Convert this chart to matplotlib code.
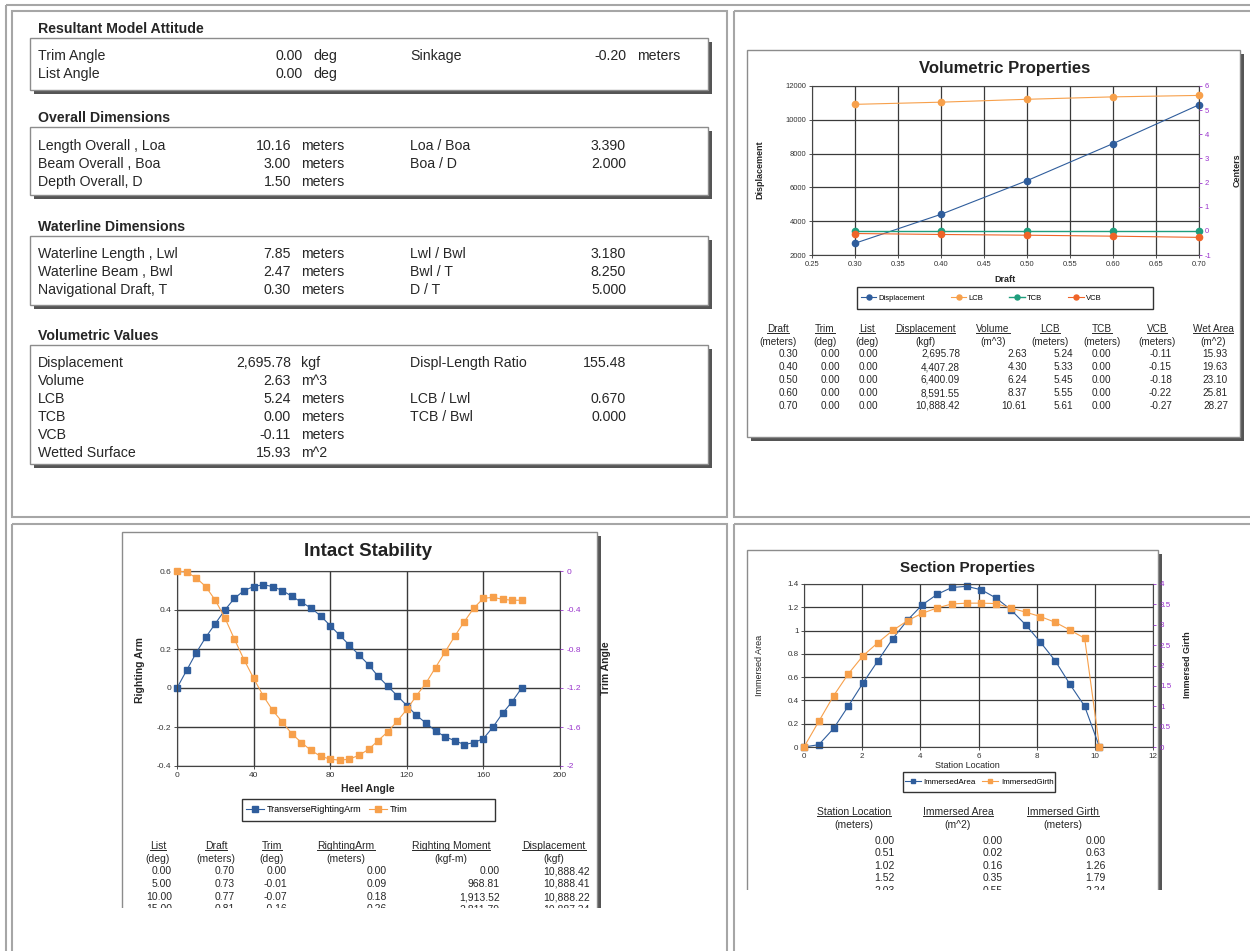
import matplotlib
matplotlib.use("Agg")
import matplotlib.pyplot as plt
from matplotlib.patches import Rectangle

W, H = 1250, 951
plt.rcParams["font.family"] = ["Liberation Sans", "DejaVu Sans"]
plt.rcParams["axes.unicode_minus"] = False

TXT = "#262626"
GRID = "#3a3a3a"
PURPLE = "#9933cc"
BLUE = "#2f5d9c"
ORANGE = "#f7a04b"
TEAL = "#1f9e7d"
RED = "#ef6428"

# ---- summary panel (top left)
attitude_rows = [
    ["Trim Angle", "0.00", "deg", "Sinkage", "-0.20", "meters"],
    ["List Angle", "0.00", "deg", "", "", ""],
]
overall_rows = [
    ["Length Overall , Loa", "10.16", "meters", "Loa / Boa", "3.390", ""],
    ["Beam Overall , Boa", "3.00", "meters", "Boa / D", "2.000", ""],
    ["Depth Overall, D", "1.50", "meters", "", "", ""],
]
waterline_rows = [
    ["Waterline Length , Lwl", "7.85", "meters", "Lwl / Bwl", "3.180", ""],
    ["Waterline Beam , Bwl", "2.47", "meters", "Bwl / T", "8.250", ""],
    ["Navigational Draft, T", "0.30", "meters", "D / T", "5.000", ""],
]
volumetric_rows = [
    ["Displacement", "2,695.78", "kgf", "Displ-Length Ratio", "155.48", ""],
    ["Volume", "2.63", "m^3", "", "", ""],
    ["LCB", "5.24", "meters", "LCB / Lwl", "0.670", ""],
    ["TCB", "0.00", "meters", "TCB / Bwl", "0.000", ""],
    ["VCB", "-0.11", "meters", "", "", ""],
    ["Wetted Surface", "15.93", "m^2", "", "", ""],
]

# ---- volumetric properties
draft = [0.30, 0.40, 0.50, 0.60, 0.70]
vol_trim = [0.00, 0.00, 0.00, 0.00, 0.00]
vol_list = [0.00, 0.00, 0.00, 0.00, 0.00]
displacement = [2695.78, 4407.28, 6400.09, 8591.55, 10888.42]
volume = [2.63, 4.30, 6.24, 8.37, 10.61]
lcb = [5.24, 5.33, 5.45, 5.55, 5.61]
tcb = [0.00, 0.00, 0.00, 0.00, 0.00]
vcb = [-0.11, -0.15, -0.18, -0.22, -0.27]
wet_area = [15.93, 19.63, 23.10, 25.81, 28.27]
vol_xticks = [0.25, 0.30, 0.35, 0.40, 0.45, 0.50, 0.55, 0.60, 0.65, 0.70]
vol_yticks = [2000, 4000, 6000, 8000, 10000, 12000]
vol_rticks = [-1, 0, 1, 2, 3, 4, 5, 6]

# ---- intact stability
heel = [0, 5, 10, 15, 20, 25, 30, 35, 40, 45, 50, 55, 60, 65, 70, 75, 80, 85, 90,
        95, 100, 105, 110, 115, 120, 125, 130, 135, 140, 145, 150, 155, 160, 165,
        170, 175, 180]
righting_arm = [0.00, 0.09, 0.18, 0.26, 0.33, 0.40, 0.46, 0.50, 0.52, 0.53, 0.52,
                0.50, 0.47, 0.44, 0.41, 0.37, 0.32, 0.27, 0.22, 0.17, 0.12, 0.06,
                0.01, -0.04, -0.09, -0.14, -0.18, -0.22, -0.25, -0.27, -0.29,
                -0.28, -0.26, -0.20, -0.13, -0.07, 0.00]
trim = [0.00, -0.01, -0.07, -0.16, -0.30, -0.48, -0.70, -0.91, -1.10, -1.28, -1.43,
        -1.55, -1.67, -1.76, -1.84, -1.90, -1.93, -1.94, -1.93, -1.89, -1.83, -1.74,
        -1.65, -1.54, -1.42, -1.28, -1.15, -0.99, -0.83, -0.67, -0.52, -0.38, -0.28,
        -0.27, -0.29, -0.30, -0.30]
stab_draft = [0.70, 0.73, 0.77, 0.81]
stab_moment = [0.00, 968.81, 1913.52, 2811.79]
stab_disp = [10888.42, 10888.41, 10888.22, 10887.34]
stab_xticks = [0, 40, 80, 120, 160, 200]
stab_yticks = [-0.4, -0.2, 0, 0.2, 0.4, 0.6]
stab_rticks = [-2, -1.6, -1.2, -0.8, -0.4, 0]

# ---- section properties
station = [0.00, 0.51, 1.02, 1.52, 2.03, 2.54, 3.05, 3.56, 4.06, 4.57, 5.08, 5.59,
           6.10, 6.60, 7.11, 7.62, 8.13, 8.64, 9.14, 9.65, 10.16]
imm_area = [0.00, 0.02, 0.16, 0.35, 0.55, 0.74, 0.93, 1.09, 1.22, 1.31, 1.37, 1.38,
            1.35, 1.28, 1.18, 1.05, 0.90, 0.74, 0.54, 0.35, 0.00]
imm_girth = [0.00, 0.63, 1.26, 1.79, 2.24, 2.56, 2.86, 3.10, 3.28, 3.41, 3.51, 3.53,
             3.53, 3.52, 3.41, 3.31, 3.20, 3.06, 2.87, 2.67, 0.00]
sec_xticks = [0, 2, 4, 6, 8, 10, 12]
sec_yticks = [0, 0.2, 0.4, 0.6, 0.8, 1, 1.2, 1.4]
sec_rticks = [0, 0.5, 1, 1.5, 2, 2.5, 3, 3.5, 4]


def fr(l, t, r, b):
    return [l / W, 1 - b / H, (r - l) / W, (b - t) / H]


fig = plt.figure(figsize=(W / 100, H / 100), dpi=100)
bg = fig.add_axes([0, 0, 1, 1], zorder=0)
bg.set_xlim(0, W)
bg.set_ylim(H, 0)
bg.axis("off")

# outer table lines
PANEL = "#a6a6a6"
bg.add_patch(Rectangle((6, 5), W, H, fill=False, ec=PANEL, lw=1.5, zorder=20))
for l, t, r, b in [(12, 11, 727, 517), (734, 11, W + 5, 517),
                   (12, 524, 727, H + 5), (734, 524, W + 5, H + 5)]:
    bg.add_patch(Rectangle((l, t), r - l, b - t, fill=False, ec=PANEL, lw=1.5, zorder=20))


def shadow_box(l, t, r, b, off=4):
    bg.add_patch(Rectangle((l + off, t + off), r - l, b - t, fc="#555555", ec="none", zorder=1))
    bg.add_patch(Rectangle((l, t), r - l, b - t, fc="white", ec="#8c8c8c", lw=1, zorder=2))


# ---- top-left summary
FS = 10.2
summary = [
    ("Resultant Model Attitude", 29, 38, 90, attitude_rows, 56, 303, 313),
    ("Overall Dimensions", 118, 127, 195, overall_rows, 146, 291, 301),
    ("Waterline Dimensions", 227, 236, 305, waterline_rows, 254, 291, 301),
    ("Volumetric Values", 336, 345, 464, volumetric_rows, 363, 291, 301),
]
for title, ty, bt, bb, rows, y0, xv, xu in summary:
    bg.text(38, ty, title, fontsize=FS, fontweight="bold", color=TXT, ha="left", va="center")
    shadow_box(30, bt, 708, bb)
    for i, row in enumerate(rows):
        y = y0 + i * 18
        bg.text(38, y, row[0], fontsize=FS, color=TXT, ha="left", va="center", zorder=3)
        bg.text(xv, y, row[1], fontsize=FS, color=TXT, ha="right", va="center", zorder=3)
        bg.text(xu, y, row[2], fontsize=FS, color=TXT, ha="left", va="center", zorder=3)
        bg.text(410, y, row[3], fontsize=FS, color=TXT, ha="left", va="center", zorder=3)
        bg.text(626, y, row[4], fontsize=FS, color=TXT, ha="right", va="center", zorder=3)
        bg.text(637, y, row[5], fontsize=FS, color=TXT, ha="left", va="center", zorder=3)

underlined = []


def table(xc, xr, y_head, y_unit, y_rows, headers, units, columns, fs):
    for j in range(len(headers)):
        t = bg.text(xc[j], y_head, headers[j], fontsize=fs, color=TXT, ha="center", va="center", zorder=3)
        underlined.append(t)
        bg.text(xc[j], y_unit, units[j], fontsize=fs, color=TXT, ha="center", va="center", zorder=3)
        for i, y in enumerate(y_rows):
            bg.text(xr[j], y, columns[j][i], fontsize=fs, color=TXT, ha="right", va="center", zorder=3)


def style_axes(a, fs):
    a.set_facecolor("white")
    for s in a.spines.values():
        s.set_color("#444444")
        s.set_linewidth(0.8)
    a.tick_params(labelsize=fs, colors="#333333", length=2, width=0.6, pad=2)


def legend_box(a, handles, l, t, r, b, x_start, fs, colsp):
    # Excel-style legend: entries packed from the left inside a wider frame
    bg.add_patch(Rectangle((l, t), r - l, b - t, fill=False, ec="#333333", lw=1.0, zorder=3))
    yc = 1 - (t + b) / 2 / H
    a.legend(handles=handles, loc="center left", ncol=len(handles), fontsize=fs,
             bbox_to_anchor=(x_start / W, yc), bbox_transform=fig.transFigure,
             frameon=False, borderaxespad=0, borderpad=0, handlelength=2.0,
             handletextpad=0.3, columnspacing=colsp, markerscale=0.8)


# ---- volumetric properties (top right)
shadow_box(747, 50, 1240, 437)
bg.text(1005, 68, "Volumetric Properties", fontsize=12, fontweight="bold", color="#222222",
        ha="center", va="center", zorder=3)
ax = fig.add_axes(fr(812, 86, 1199, 255), zorder=3)
style_axes(ax, 5.5)
h1, = ax.plot(draft, displacement, color=BLUE, lw=0.8, marker="o", ms=4.5, label="Displacement",
              clip_on=False)
ax.set_xlim(0.25, 0.70)
ax.set_ylim(2000, 12000)
ax.set_xticks(vol_xticks)
ax.set_xticklabels([f"{v:.2f}" for v in vol_xticks])
ax.set_yticks(vol_yticks)
ax.set_yticklabels([f"{v:g}" for v in vol_yticks])
ax.grid(True, color=GRID, lw=0.9)
axr = ax.twinx()
axr.set_zorder(4)
h2, = axr.plot(draft, lcb, color=ORANGE, lw=0.8, marker="o", ms=4.5, label="LCB", clip_on=False)
h3, = axr.plot(draft, tcb, color=TEAL, lw=1.0, marker="o", ms=4.5, label="TCB", clip_on=False)
h4, = axr.plot(draft, vcb, color=RED, lw=0.8, marker="o", ms=4.5, label="VCB", clip_on=False)
axr.set_ylim(-1, 6)
axr.set_yticks(vol_rticks)
axr.set_yticklabels([f"{v:g}" for v in vol_rticks])
axr.tick_params(labelsize=5.5, colors=PURPLE, length=2, width=0.6, pad=2)
for s in axr.spines.values():
    s.set_visible(False)
bg.text(760, 170, "Displacement", rotation=90, fontsize=6.5, fontweight="bold", color=TXT,
        ha="center", va="center")
bg.text(1237, 170, "Centers", rotation=90, fontsize=6.5, fontweight="bold", color=TXT,
        ha="center", va="center")
bg.text(1005, 280, "Draft", fontsize=6.5, fontweight="bold", color=TXT, ha="center", va="center")
legend_box(axr, [h1, h2, h3, h4], 857, 287, 1153, 309, 861, 5.5, 3.4)

vol_cols = [
    [f"{v:.2f}" for v in draft],
    [f"{v:.2f}" for v in vol_trim],
    [f"{v:.2f}" for v in vol_list],
    [f"{v:,.2f}" for v in displacement],
    [f"{v:.2f}" for v in volume],
    [f"{v:.2f}" for v in lcb],
    [f"{v:.2f}" for v in tcb],
    [f"{v:.2f}" for v in vcb],
    [f"{v:.2f}" for v in wet_area],
]
table([778, 825, 867, 925, 993, 1050, 1102, 1157, 1213],
      [798, 840, 878, 960, 1027, 1073, 1111, 1172, 1228],
      329, 342, [354, 367, 380, 393, 406],
      ["Draft", "Trim", "List", "Displacement", "Volume", "LCB", "TCB", "VCB", "Wet Area"],
      ["(meters)", "(deg)", "(deg)", "(kgf)", "(m^3)", "(meters)", "(meters)", "(meters)", "(m^2)"],
      vol_cols, 7.2)

# ---- intact stability (bottom left)
shadow_box(122, 532, 597, 960)
bg.text(368, 552, "Intact Stability", fontsize=13.5, fontweight="bold", color="#222222",
        ha="center", va="center", zorder=3)
ax2 = fig.add_axes(fr(177, 571, 560, 766), zorder=3)
style_axes(ax2, 6)
g1, = ax2.plot(heel, righting_arm, color=BLUE, lw=0.8, marker="s", ms=4.6,
               label="TransverseRightingArm", clip_on=False)
ax2.set_xlim(0, 200)
ax2.set_ylim(-0.4, 0.6)
ax2.set_xticks(stab_xticks)
ax2.set_yticks(stab_yticks)
ax2.set_yticklabels([f"{v:g}" for v in stab_yticks])
ax2.grid(True, color=GRID, lw=1.0)
ax2r = ax2.twinx()
ax2r.set_zorder(4)
g2, = ax2r.plot(heel, trim, color=ORANGE, lw=0.8, marker="s", ms=4.6, label="Trim", clip_on=False)
ax2r.set_ylim(-2, 0)
ax2r.set_yticks(stab_rticks)
ax2r.set_yticklabels([f"{v:g}" for v in stab_rticks])
ax2r.tick_params(labelsize=6, colors=PURPLE, length=2, width=0.6, pad=3)
for s in ax2r.spines.values():
    s.set_visible(False)
bg.text(140, 670, "Righting Arm", rotation=90, fontsize=7.5, fontweight="bold", color=TXT,
        ha="center", va="center")
bg.text(606, 668, "Trim Angle", rotation=90, fontsize=7.5, fontweight="bold", color=TXT,
        ha="center", va="center")
bg.text(368, 789, "Heel Angle", fontsize=7.5, fontweight="bold", color=TXT, ha="center", va="center")
legend_box(ax2r, [g1, g2], 242, 799, 495, 821, 246, 6.5, 0.8)

stab_cols = [
    [f"{v:.2f}" for v in heel[:4]],
    [f"{v:.2f}" for v in stab_draft],
    [f"{v:.2f}" for v in trim[:4]],
    [f"{v:.2f}" for v in righting_arm[:4]],
    [f"{v:,.2f}" for v in stab_moment],
    [f"{v:,.2f}" for v in stab_disp],
]
table([158, 216, 272, 346, 451, 554],
      [172, 235, 287, 387, 500, 590],
      846, 859, [871, 884, 897, 909],
      ["List", "Draft", "Trim", "RightingArm", "Righting Moment", "Displacement"],
      ["(deg)", "(meters)", "(deg)", "(meters)", "(kgf-m)", "(kgf)"],
      stab_cols, 7.5)

# ---- section properties (bottom right)
shadow_box(747, 550, 1158, 960)
bg.text(967, 568, "Section Properties", fontsize=11, fontweight="bold", color="#222222",
        ha="center", va="center", zorder=3)
ax3 = fig.add_axes(fr(804, 584, 1153, 747), zorder=3)
style_axes(ax3, 5.8)
s1, = ax3.plot(station, imm_area, color=BLUE, lw=0.8, marker="s", ms=4.2, label="ImmersedArea",
               clip_on=False)
ax3.set_xlim(0, 12)
ax3.set_ylim(0, 1.4)
ax3.set_xticks(sec_xticks)
ax3.set_yticks(sec_yticks)
ax3.set_yticklabels([f"{v:g}" for v in sec_yticks])
ax3.grid(True, color=GRID, lw=0.9)
ax3r = ax3.twinx()
ax3r.set_zorder(4)
s2, = ax3r.plot(station, imm_girth, color=ORANGE, lw=0.8, marker="s", ms=4.2, label="ImmersedGirth",
                clip_on=False)
ax3r.set_ylim(0, 4)
ax3r.set_yticks(sec_rticks)
ax3r.set_yticklabels([f"{v:g}" for v in sec_rticks])
ax3r.tick_params(labelsize=5.8, colors=PURPLE, length=2, width=0.6, pad=3)
for s in ax3r.spines.values():
    s.set_visible(False)
bg.text(760, 665, "Immersed Area", rotation=90, fontsize=6.5, color=TXT, ha="center", va="center")
bg.text(1187, 665, "Immersed Girth", rotation=90, fontsize=6.5, fontweight="bold", color=TXT,
        ha="center", va="center")
bg.text(967, 766, "Station Location", fontsize=6.5, color=TXT, ha="center", va="center")
legend_box(ax3r, [s1, s2], 903, 772, 1055, 792, 905, 5.8, 0.8)

sec_cols = [
    [f"{v:.2f}" for v in station[:5]],
    [f"{v:.2f}" for v in imm_area[:5]],
    [f"{v:.2f}" for v in imm_girth[:5]],
]
table([854, 958, 1063], [895, 1003, 1106], 812, 825, [841, 853, 866, 878, 891],
      ["Station Location", "Immersed Area", "Immersed Girth"],
      ["(meters)", "(m^2)", "(meters)"], sec_cols, 7.5)

# underline the table headers
fig.canvas.draw()
rend = fig.canvas.get_renderer()
inv = bg.transData.inverted()
for t in underlined:
    bb = t.get_window_extent(rend)
    (x0, y0), (x1, y1) = inv.transform([[bb.x0, bb.y0], [bb.x1, bb.y1]])
    yb = max(y0, y1) - 1
    bg.plot([x0, x1], [yb, yb], color=TXT, lw=0.7, zorder=3)

# the captured page is cut off at the bottom of the lower panels
bg.add_patch(Rectangle((13, 908), 713, 60, fc="white", ec="none", zorder=15))
bg.add_patch(Rectangle((735, 890), 530, 80, fc="white", ec="none", zorder=15))

fig.savefig("out.png", dpi=100, facecolor="white")
